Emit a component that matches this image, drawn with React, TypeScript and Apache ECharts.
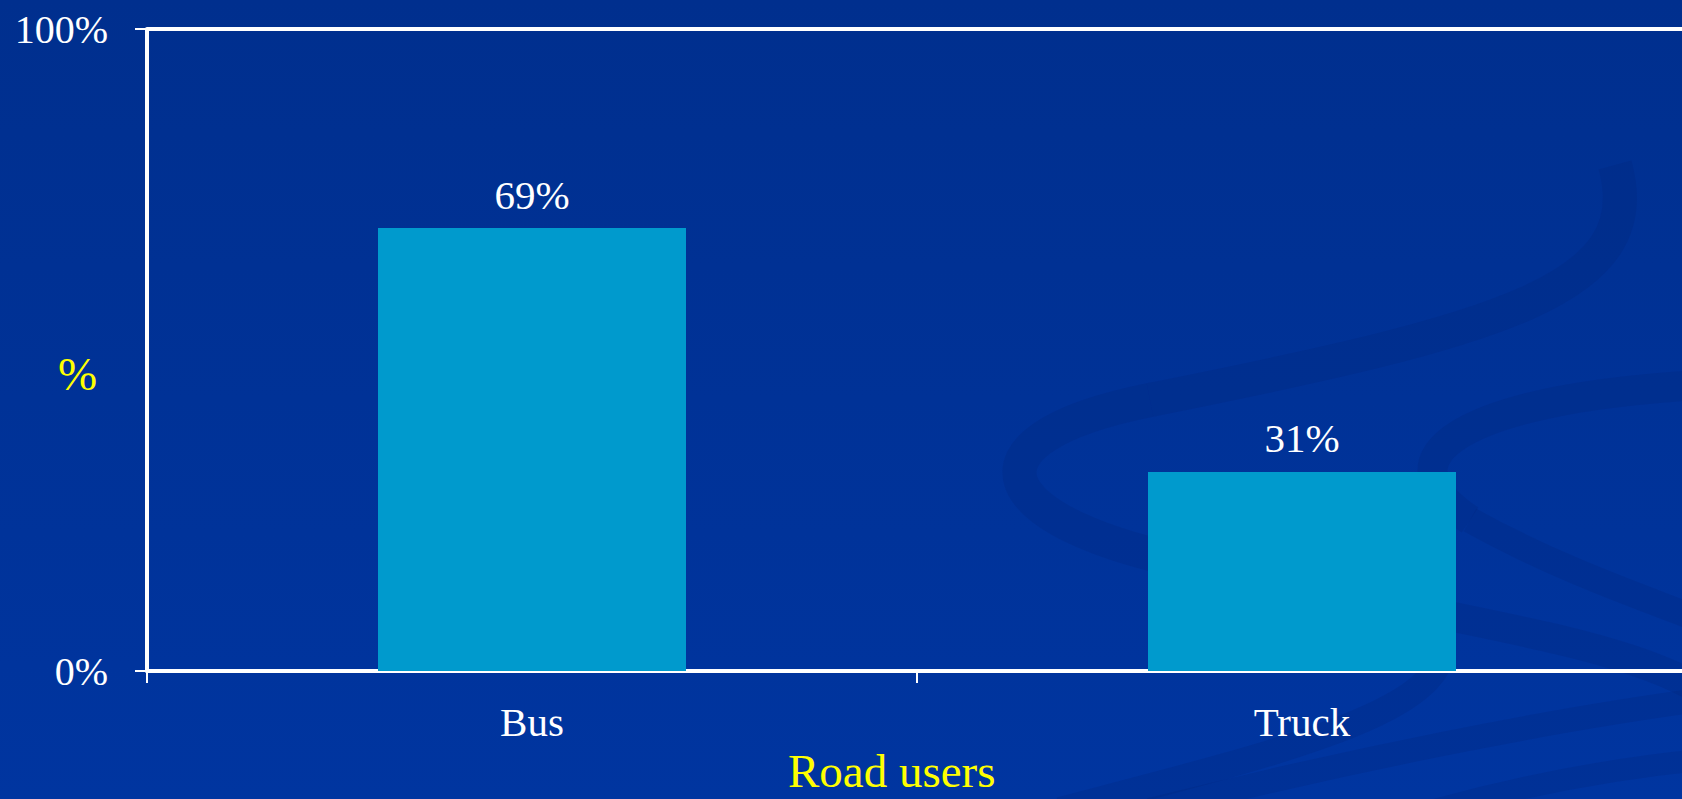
import React, { useEffect, useRef } from "react";
import * as echarts from "echarts";

const categories = ["Bus", "Truck"];
const shares = [69, 31];
const yTicks = [0, 100];
const xAxisName = "Road users";
const yAxisName = "%";

const FONT = "'Liberation Serif', 'Times New Roman', serif";

export default function App() {
  const ref = useRef<HTMLDivElement>(null);

  useEffect(() => {
    if (!ref.current) return;
    const chart = echarts.init(ref.current, null, { renderer: "svg" });
    const swirl = "rgba(0, 36, 120, 0.22)";
    const option = {
      animation: false,
      backgroundColor: {
        type: "linear",
        x: 0,
        y: 0,
        x2: 0,
        y2: 1,
        colorStops: [
          { offset: 0, color: "#002F8E" },
          { offset: 1, color: "#0035A0" },
        ],
      },
      graphic: [
        {
          type: "group",
          silent: true,
          z: -10,
          children: [
            { type: "bezierCurve", shape: { x1: 1615, y1: 165, cpx1: 1650, cpy1: 290, cpx2: 1500, cpy2: 330, x2: 1150, y2: 400 }, style: { stroke: swirl, lineWidth: 34, fill: null } },
            { type: "bezierCurve", shape: { x1: 1150, y1: 400, cpx1: 950, cpy1: 440, cpx2: 990, cpy2: 525, x2: 1200, y2: 565 }, style: { stroke: swirl, lineWidth: 34, fill: null } },
            { type: "bezierCurve", shape: { x1: 1200, y1: 565, cpx1: 1450, cpy1: 620, cpx2: 1620, cpy2: 640, x2: 1700, y2: 690 }, style: { stroke: swirl, lineWidth: 30, fill: null } },
            { type: "bezierCurve", shape: { x1: 1700, y1: 385, cpx1: 1450, cpy1: 400, cpx2: 1380, cpy2: 460, x2: 1470, y2: 520 }, style: { stroke: swirl, lineWidth: 30, fill: null } },
            { type: "bezierCurve", shape: { x1: 1470, y1: 520, cpx1: 1560, cpy1: 570, cpx2: 1650, cpy2: 600, x2: 1700, y2: 620 }, style: { stroke: swirl, lineWidth: 26, fill: null } },
            { type: "bezierCurve", shape: { x1: 1440, y1: 660, cpx1: 1420, cpy1: 720, cpx2: 1250, cpy2: 760, x2: 1060, y2: 810 }, style: { stroke: swirl, lineWidth: 26, fill: null } },
            { type: "bezierCurve", shape: { x1: 1150, y1: 810, cpx1: 1350, cpy1: 760, cpx2: 1550, cpy2: 720, x2: 1700, y2: 700 }, style: { stroke: swirl, lineWidth: 24, fill: null } },
            { type: "bezierCurve", shape: { x1: 1400, y1: 820, cpx1: 1500, cpy1: 790, cpx2: 1600, cpy2: 770, x2: 1700, y2: 760 }, style: { stroke: swirl, lineWidth: 22, fill: null } },
          ],
        },
        {
          type: "text",
          left: 58,
          top: 350,
          style: { text: yAxisName, fill: "#FFFF00", font: `47px ${FONT}` },
        },
        {
          type: "text",
          left: 788,
          top: 747,
          style: { text: xAxisName, fill: "#FFFF00", font: `47px ${FONT}` },
        },
      ],
      grid: { left: 147, right: 13, top: 29, bottom: 128, containLabel: false },
      xAxis: {
        type: "category",
        data: categories,
        axisLine: { show: true, lineStyle: { color: "#FFFFFF", width: 4 } },
        axisTick: { show: true, length: 12, lineStyle: { color: "#FFFFFF", width: 2 } },
        axisLabel: { color: "#FFFFFF", fontFamily: FONT, fontSize: 41, margin: 30 },
        splitLine: { show: false },
      },
      yAxis: {
        type: "value",
        min: yTicks[0],
        max: yTicks[yTicks.length - 1],
        interval: 100,
        axisLine: { show: true, lineStyle: { color: "#FFFFFF", width: 4 } },
        axisTick: { show: true, length: 12, lineStyle: { color: "#FFFFFF", width: 2 } },
        axisLabel: { color: "#FFFFFF", fontFamily: FONT, fontSize: 40, margin: 39, formatter: "{value}%" },
        splitLine: { show: true, lineStyle: { color: "#FFFFFF", width: 4 } },
      },
      series: [
        {
          type: "bar",
          data: shares,
          barWidth: 308,
          itemStyle: { color: "#009ACD" },
          label: {
            show: true,
            position: "top",
            distance: 13,
            color: "#FFFFFF",
            fontFamily: FONT,
            fontSize: 41,
            formatter: "{c}%",
          },
        },
      ],
    };
    chart.setOption(option as any);
    return () => chart.dispose();
  }, []);

  return (
    <div
      ref={ref}
      style={{ position: "fixed", left: 0, top: 0, width: 1700, height: 799 }}
    />
  );
}
